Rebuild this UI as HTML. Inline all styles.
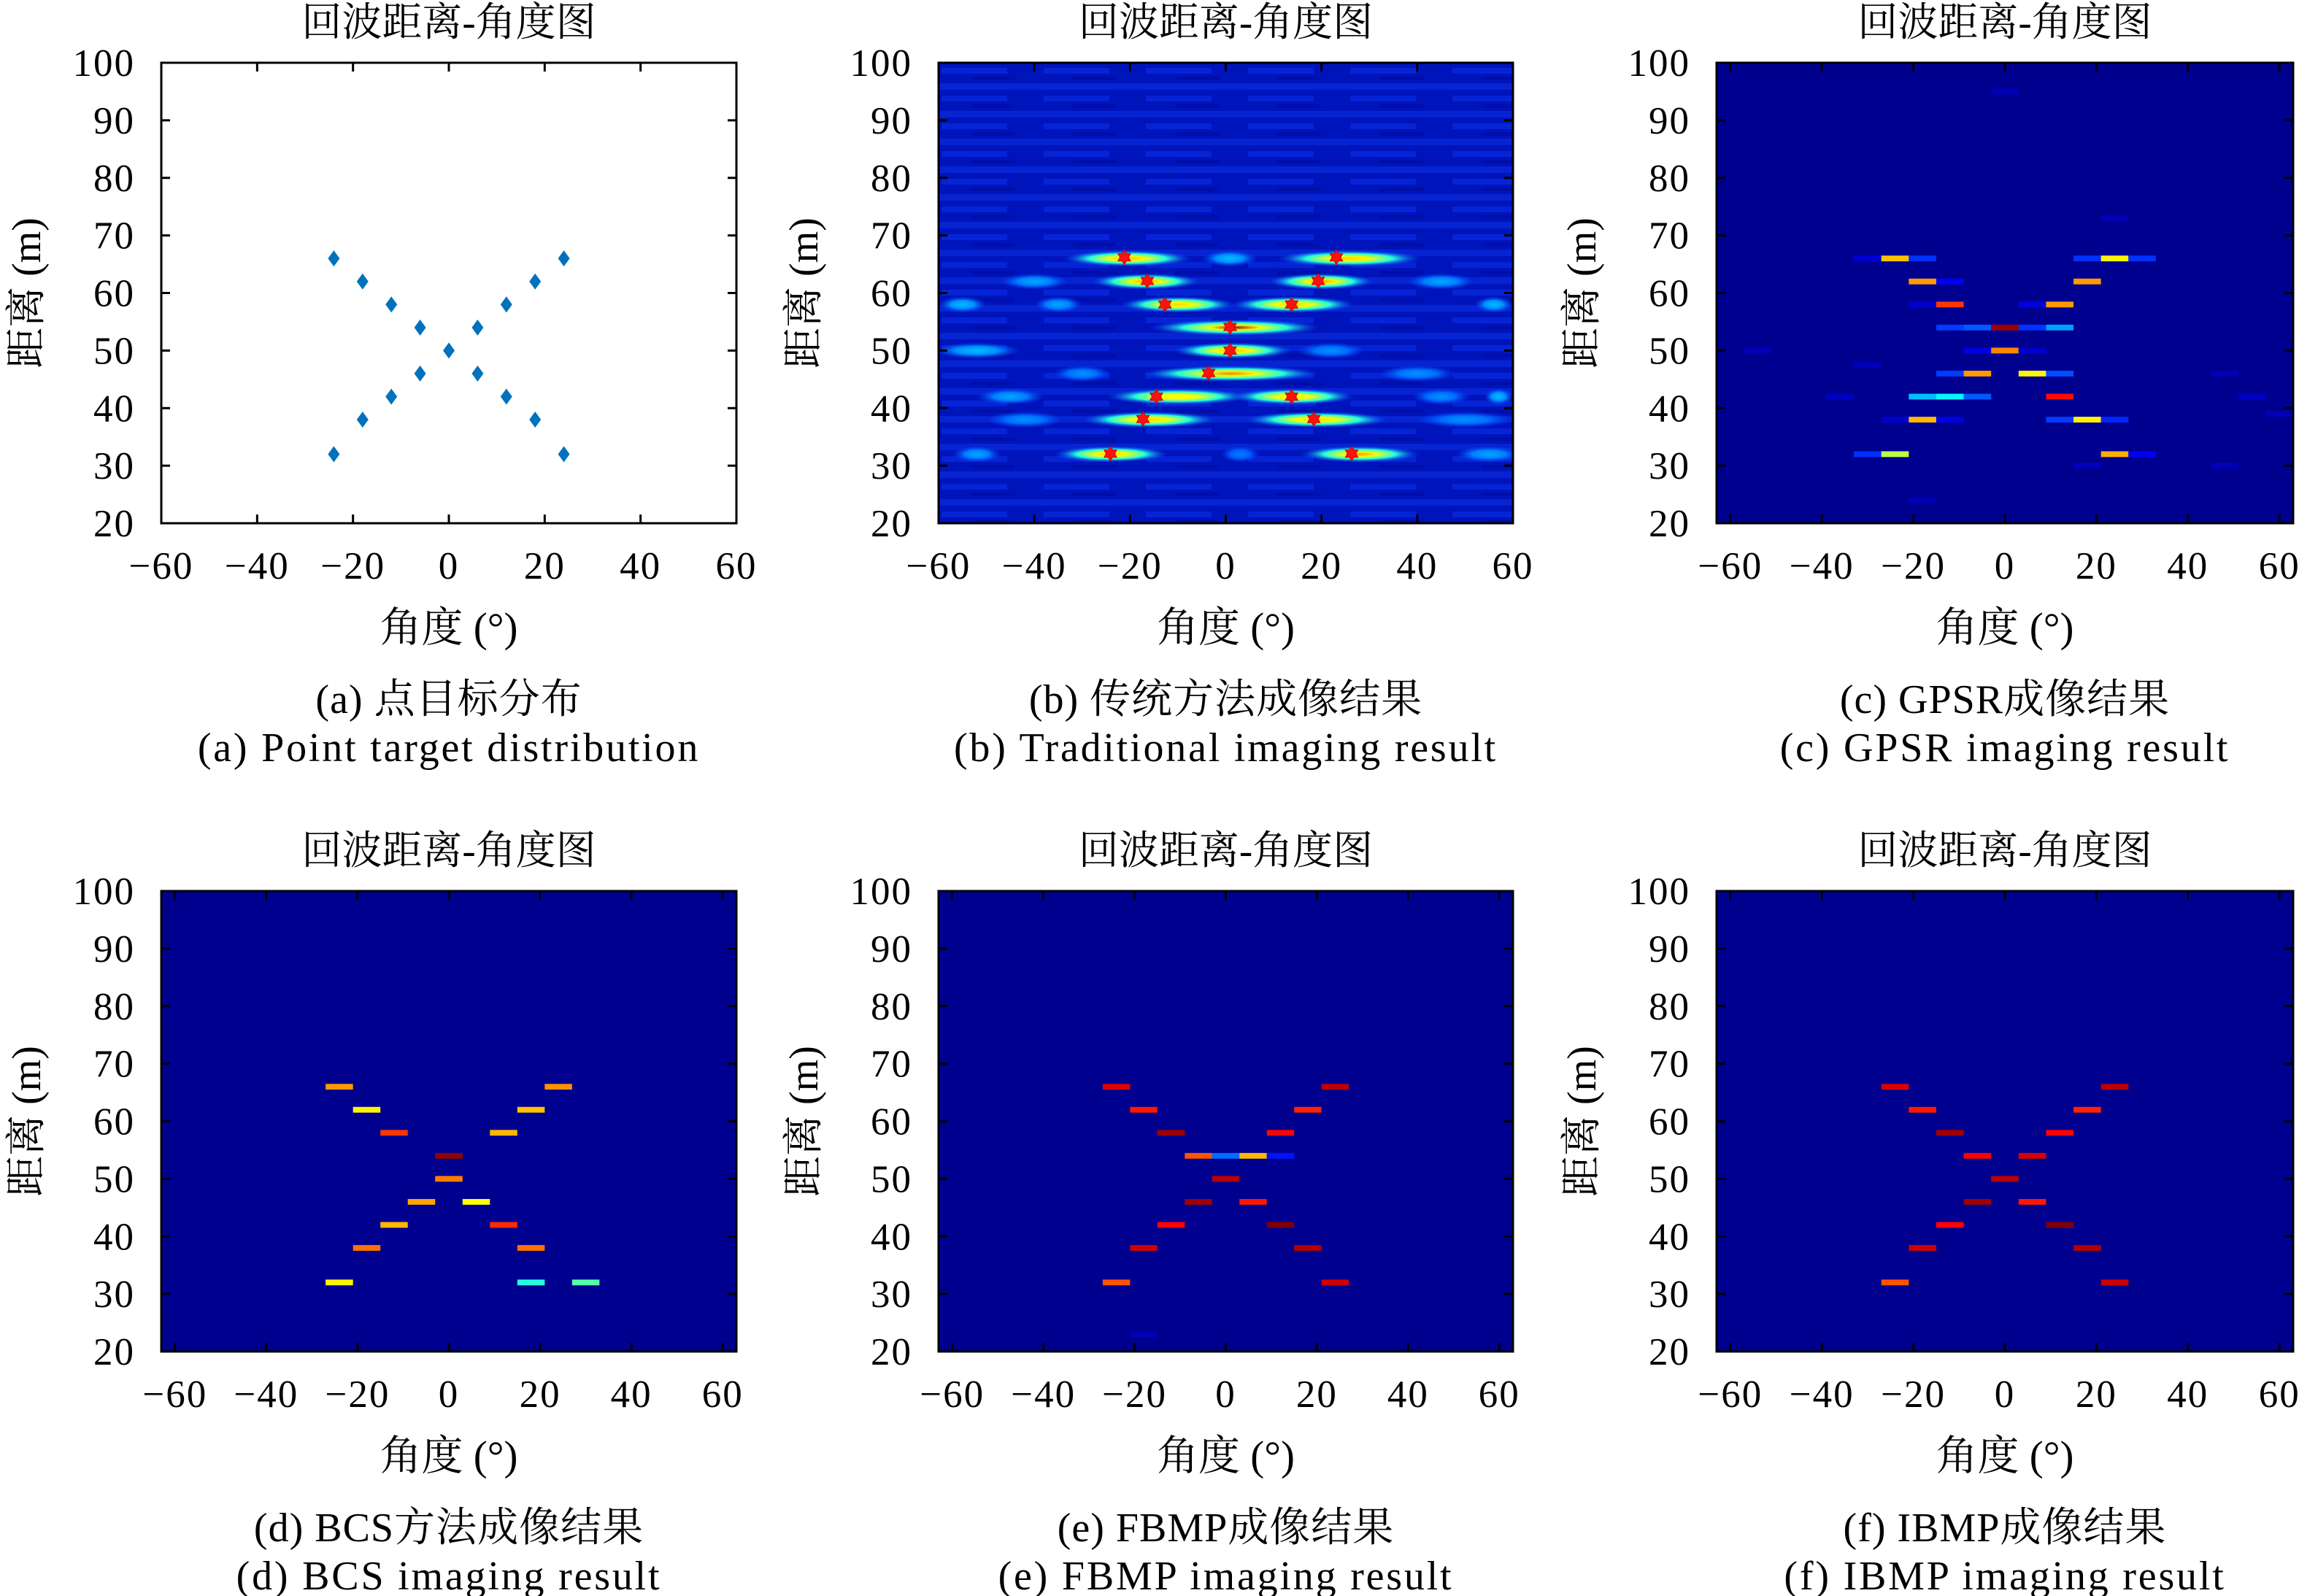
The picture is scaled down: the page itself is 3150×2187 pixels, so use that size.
<!DOCTYPE html>
<html><head><meta charset="utf-8">
<style>
html,body{margin:0;padding:0;background:#fff;}
svg{display:block;}
text{font-family:"Liberation Serif","Noto Serif CJK SC",serif;fill:#000;}
</style></head>
<body>
<svg id="fig" width="3150" height="2187" viewBox="0 0 3150 2187" xmlns="http://www.w3.org/2000/svg">
<defs>
<pattern id="stripes" patternUnits="userSpaceOnUse" width="140" height="38">
<rect width="140" height="38" fill="#0014bc"/>
<rect y="0" width="140" height="9" fill="#0a2ee0" opacity="0.6"/>
<rect x="30" y="17" width="90" height="8" fill="#0a34ee" opacity="0.5"/>
<rect x="70" y="29" width="60" height="5" fill="#000c9c" opacity="0.6"/>
</pattern>
</defs>
</svg>
<script>
// ---------- data ----------
const xTicks=[-60,-40,-20,0,20,40,60];
const yTicks=[20,30,40,50,60,70,80,90,100];
// (a) point targets
const ptAngle=[-24,-18,-12,-6,0,6,12,18,24,-24,-18,-12,-6,6,12,18,24];
const ptRange=[66,62,58,54,50,46,42,38,32,32,38,42,46,54,58,62,66];
// (b) traditional imaging: blobs
const bAngle=[-20.5,25.8,0.8,-16.7,20,-40,45,-10,14,-55,-35,56,2,1.5,-52,22,1,-30,40,-10,14,-45,45,57,-16,19,-42,50,-24,28,-52,3,55];
const bRange=[66,66,66,62,62,62,62,58,58,58,58,58,54,50,50,50,46,46,46,42,42,42,42,42,38,38,38,38,32,32,32,32,32];
const bHalf=[13.5,15.2,5.8,11.3,11,7,7,12,13,5,5,4,18,12.5,9,7,18.5,6,8,15,13,7,6,3,14,15,8,10,12,12.5,5,4,7];
const bPeak=[0.68,0.66,0.3,0.72,0.72,0.28,0.28,0.66,0.66,0.3,0.28,0.3,0.95,0.68,0.3,0.26,0.75,0.26,0.26,0.62,0.62,0.28,0.26,0.3,0.66,0.66,0.26,0.26,0.66,0.72,0.28,0.24,0.28];
const starAngle=[-21.2,23.1,-16.4,19.3,-12.7,13.75,0.9,0.9,-3.6,-14.5,13.75,-17.3,18.4,-24.1,26.3];
const starRange=[66.2,66.2,62.1,62.1,58,58,54.1,50,46.1,42,42,38.1,38.1,32.1,32.1];
// (c) GPSR
const cAngle=[-30,-24,-18,18,24,30,-18,-12,18,-18,-12,6,12,-12,-6,0,6,12,-6,0,6,-12,-6,6,12,-18,-12,-6,12,-24,-18,-12,12,18,24,-30,-24,24,30,0,24,-54,-30,-36,48,54,60,18,48,-18];
const cRange=[66,66,66,66,66,66,62,62,62,58,58,58,58,54,54,54,54,54,50,50,50,46,46,46,46,42,42,42,42,38,38,38,38,38,38,32,32,32,32,95,73,50,47.5,42,46,42,39,30,30,24];
const cVal=[0.07,0.68,0.16,0.16,0.63,0.16,0.72,0.1,0.72,0.06,0.82,0.08,0.72,0.17,0.2,0.97,0.16,0.27,0.08,0.74,0.06,0.17,0.72,0.63,0.19,0.3,0.36,0.2,0.86,0.06,0.69,0.08,0.17,0.63,0.15,0.16,0.55,0.7,0.1,0.04,0.04,0.04,0.04,0.05,0.04,0.05,0.04,0.04,0.04,0.04];
// (d) BCS
const dAngle=[-24,24,-18,18,-12,12,0,0,-6,6,-12,12,-18,18,-24,18,30];
const dRange=[66,66,62,62,58,58,54,50,46,46,42,42,38,38,32,32,32];
const dVal=[0.72,0.73,0.63,0.68,0.82,0.69,0.98,0.75,0.71,0.62,0.69,0.83,0.76,0.76,0.63,0.4,0.45];
// (e) FBMP
const eAngle=[-24,24,-18,18,-12,12,-6,0,6,12,0,-6,6,-12,12,-18,18,-24,24,-18];
const eRange=[66,66,62,62,58,58,54,54,54,54,50,46,46,42,42,38,38,32,32,23];
const eVal=[0.905,0.94,0.85,0.84,0.97,0.87,0.79,0.22,0.69,0.13,0.94,0.97,0.85,0.87,1.0,0.92,0.95,0.79,0.92,0.04];
// (f) IBMP
const fAngle=[-24,24,-18,18,-12,12,-6,6,0,-6,6,-12,12,-18,18,-24,24];
const fRange=[66,66,62,62,58,58,54,54,50,46,46,42,42,38,38,32,32];
const fVal=[0.91,0.94,0.85,0.84,0.97,0.87,0.875,0.91,0.94,0.97,0.85,0.87,1.0,0.92,0.95,0.79,0.92];

const svg=document.getElementById('fig');
const NS='http://www.w3.org/2000/svg';
function mk(tag,attrs,parent){const e=document.createElementNS(NS,tag);for(const k in attrs)e.setAttribute(k,attrs[k]);(parent||svg).appendChild(e);return e;}
function clamp(v){return Math.max(0,Math.min(1,v));}
function jet(v){v=1/64+clamp(v)*63/64;const r=clamp(1.5-Math.abs(4*v-3)),g=clamp(1.5-Math.abs(4*v-2)),b=clamp(1.5-Math.abs(4*v-1));return 'rgb('+Math.round(r*255)+','+Math.round(g*255)+','+Math.round(b*255)+')';}

function makePanel(id,x0,y0,w,h,xmin,xmax){
  const g=mk('g',{});
  
  
  const sx=v=>x0+(v-xmin)/(xmax-xmin)*w;
  const sy=v=>y0+h-(v-20)/80*h;
  return {g,sx,sy,x0,y0,w,h};
}
function axes(p,title,cap1,cap2){
  const {g,sx,sy,x0,y0,w,h}=p;
  const fr=mk('rect',{x:x0,y:y0,width:w,height:h,fill:'none',stroke:'#000','stroke-width':3},g);
  
  
  const tg=mk('g',{},g);
  
  
  xTicks.forEach(t=>{const x=sx(t);
    mk('line',{x1:x,y1:y0+h,x2:x,y2:y0+h-12,stroke:'#000','stroke-width':3},tg);
    mk('line',{x1:x,y1:y0,x2:x,y2:y0+12,stroke:'#000','stroke-width':3},tg);
    const tx=mk('text',{x:x,y:y0+h+76,'font-size':53,'letter-spacing':2,'text-anchor':'middle'},g);
    
    
    tx.textContent=(t<0?'\u2212':'')+Math.abs(t);
  });
  yTicks.forEach(t=>{const y=sy(t);
    mk('line',{x1:x0,y1:y,x2:x0+12,y2:y,stroke:'#000','stroke-width':3},tg);
    mk('line',{x1:x0+w,y1:y,x2:x0+w-12,y2:y,stroke:'#000','stroke-width':3},tg);
    const ty=mk('text',{x:x0-36,y:y+18,'font-size':53,'letter-spacing':2,'text-anchor':'end'},g);
    
    
    ty.textContent=t;
  });
  const cx=x0+w/2;
  const tt=mk('text',{x:cx,y:y0-37,'font-size':55,'text-anchor':'middle'},g);
  
  
  tt.textContent=title;
  const xl=mk('text',{x:cx,y:y0+h+162,'font-size':57,'text-anchor':'middle'},g);
  
  
  xl.textContent='角度 (°)';
  const yc=y0+h/2;
  const yl=mk('text',{x:x0-185,y:yc+19,'font-size':56,'text-anchor':'middle',transform:'rotate(-90 '+(x0-185)+' '+yc+')'},g);
  
  
  yl.textContent='距离 (m)';
  const c1=mk('text',{x:cx,y:y0+h+260,'font-size':56,'letter-spacing':1,'text-anchor':'middle'},g);
  
  
  c1.textContent=cap1;
  const c2=mk('text',{x:cx,y:y0+h+326,'font-size':56,'letter-spacing':2.8,'text-anchor':'middle'},g);
  
  
  c2.textContent=cap2;
}
function heat(p,A,R,V){
  const {g,sx,sy,x0,y0,w,h}=p;
  const bg=mk('rect',{x:x0,y:y0,width:w,height:h,fill:jet(0)},g);
  
  
  for(let i=0;i<A.length;i++){
    const x1=sx(A[i]-3),x2=sx(A[i]+3),ya=sy(R[i]+0.5),yb=sy(R[i]-0.5);
    const c=mk('rect',{x:x1,y:ya,width:x2-x1,height:yb-ya,fill:jet(V[i])},g);
    
    
  }
}
const title='回波距离-角度图';
const X=[221,1286,2352],W=[788,787,790],Y=[86,1221],H=631;

// (a)
const pa=makePanel('a',X[0],Y[0],W[0],H,-60,60);
for(let i=0;i<ptAngle.length;i++){
  const x=pa.sx(ptAngle[i]),y=pa.sy(ptRange[i]);
  const m=mk('polygon',{points:(x)+','+(y-11)+' '+(x+8)+','+y+' '+x+','+(y+11)+' '+(x-8)+','+y,fill:'#0072bd'},pa.g);
  
  
}
axes(pa,title,'(a) 点目标分布','(a) Point target distribution');

// (b)
const pb=makePanel('b',X[1],Y[0],W[1],H,-60,60);
const cp=mk('clipPath',{id:'clipb'});
mk('rect',{x:pb.x0,y:pb.y0,width:pb.w,height:pb.h},cp);
const bgb=mk('rect',{x:pb.x0,y:pb.y0,width:pb.w,height:pb.h,fill:'url(#stripes)'},pb.g);


const bl=mk('g',{'clip-path':'url(#clipb)'},pb.g);


const defs=svg.querySelector('defs');
for(let i=0;i<bAngle.length;i++){
  const gid='gb'+i;
  const rg=mk('radialGradient',{id:gid},defs);
  const pk=bPeak[i];
  mk('stop',{offset:'0','stop-color':jet(pk)},rg);
  if(pk>0.5){mk('stop',{offset:'0.3','stop-color':jet(0.6)},rg);mk('stop',{offset:'0.6','stop-color':jet(0.4)},rg);}
  else{mk('stop',{offset:'0.5','stop-color':jet(pk*0.85)},rg);}
  mk('stop',{offset:'1','stop-color':jet(0.18),'stop-opacity':'0'},rg);
  const cx=pb.sx(bAngle[i]),cy=pb.sy(bRange[i]);
  const rx=pb.sx(bAngle[i]+bHalf[i])-cx,ry=pb.sy(bRange[i]-1.4)-cy;
  const e=mk('ellipse',{cx:cx,cy:cy,rx:rx,ry:ry,fill:'url(#'+gid+')'},bl);
  
  
}
for(let i=0;i<starAngle.length;i++){
  const x=pb.sx(starAngle[i]),y=pb.sy(starRange[i]),r=10;
  let pts=[];for(let k=0;k<12;k++){const a=Math.PI/6*k-Math.PI/2,rr=k%2?r*0.58:r;pts.push((x+rr*Math.cos(a)).toFixed(1)+','+(y+rr*Math.sin(a)).toFixed(1));}
  const s=mk('polygon',{points:pts.join(' '),fill:'#ff1010',stroke:'#d00000','stroke-width':1},pb.g);
  
  
}
axes(pb,title,'(b) 传统方法成像结果','(b) Traditional imaging result');

// (c)-(f)
const pc=makePanel('c',X[2],Y[0],W[2],H,-63,63);heat(pc,cAngle,cRange,cVal);axes(pc,title,'(c) GPSR成像结果','(c) GPSR imaging result');
const pd=makePanel('d',X[0],Y[1],W[0],H,-63,63);heat(pd,dAngle,dRange,dVal);axes(pd,title,'(d) BCS方法成像结果','(d) BCS imaging result');
const pe=makePanel('e',X[1],Y[1],W[1],H,-63,63);heat(pe,eAngle,eRange,eVal);axes(pe,title,'(e) FBMP成像结果','(e) FBMP imaging result');
const pf=makePanel('f',X[2],Y[1],W[2],H,-63,63);heat(pf,fAngle,fRange,fVal);axes(pf,title,'(f) IBMP成像结果','(f) IBMP imaging result');
</script>
</body></html>
